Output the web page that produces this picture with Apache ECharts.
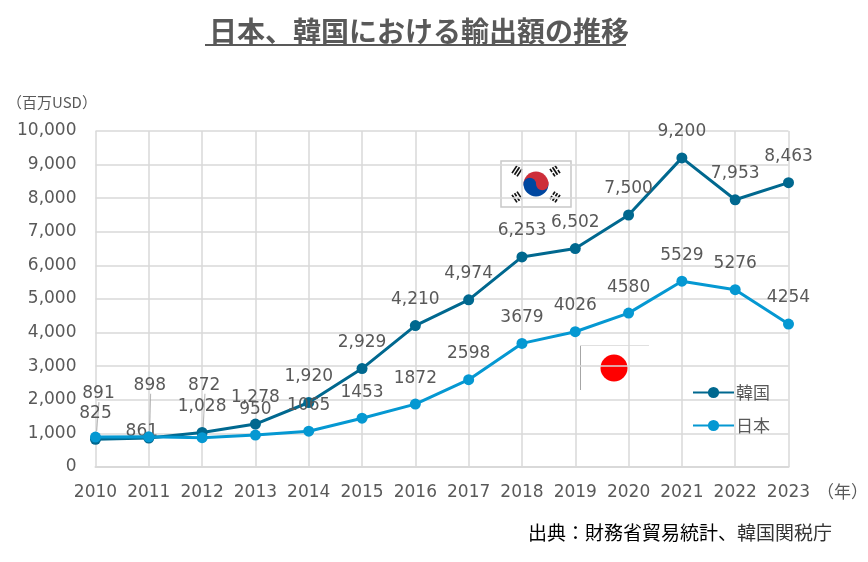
<!DOCTYPE html>
<html>
<head>
<meta charset="utf-8">
<script src="https://cdn.jsdelivr.net/npm/echarts@6/dist/echarts.min.js"></script>
<style>
html,body{margin:0;padding:0;background:#fff;}
#c{width:868px;height:562px;}
</style>
</head>
<body>
<div id="c"></div>
<script>
const years = ['2010','2011','2012','2013','2014','2015','2016','2017','2018','2019','2020','2021','2022','2023'];
const korea = [825, 861, 1028, 1278, 1920, 2929, 4210, 4974, 6253, 6502, 7500, 9200, 7953, 8463];
const japan = [891, 898, 872, 950, 1065, 1453, 1872, 2598, 3679, 4026, 4580, 5529, 5276, 4254];
const yTicks = [0, 1000, 2000, 3000, 4000, 5000, 6000, 7000, 8000, 9000, 10000];

const FONT = 'DejaVu Sans, Noto Sans CJK JP, sans-serif';
const JFONT = 'Noto Sans CJK JP, sans-serif';
const KCOL = '#00688f';
const JCOL = '#0598d2';
const TXT = '#595959';

function fmt(v){ return v.toString().replace(/\B(?=(\d{3})+(?!\d))/g, ','); }

// label nudges (px) for crowded early points
const kMoves = {1: [-7, 20]};
const jMoves = {0: [3, -17], 1: [1, -25], 2: [2, -26]};

// leader lines under the nudged Japan labels, drawn as thin rect symbols at the data points
const leaderData = Object.keys(jMoves).map(k => {
  const dx = jMoves[k][0], dy = jMoves[k][1];
  const len = 12 - dy;
  return {
    value: [Number(k), japan[k]],
    symbolSize: [1.1, len],
    symbolOffset: [dx * 0.5 + 0.8, -(6 + len / 2)],
    symbolRotate: -dx * 1.5
  };
});

// Korean flag trigrams
function trigram(cx, cy, rot, pattern){
  const children = [];
  const L = 9, T = 1.7, G = 1.3;
  pattern.forEach((broken, k) => {
    const y = -((3*T + 2*G)/2) + k*(T+G);
    if (broken){
      children.push({type:'rect', shape:{x:-L/2, y:y, width:L/2-0.8, height:T}, style:{fill:'#111'}});
      children.push({type:'rect', shape:{x:0.8, y:y, width:L/2-0.8, height:T}, style:{fill:'#111'}});
    } else {
      children.push({type:'rect', shape:{x:-L/2, y:y, width:L, height:T}, style:{fill:'#111'}});
    }
  });
  return {type:'group', x:cx, y:cy, rotation:rot, children:children};
}
const A = 0.99;
const kfx = 536, kfy = 184, kr = 12.5;

const chart = echarts.init(document.getElementById('c'));
chart.setOption({
  animation: false,
  backgroundColor: '#fff',
  title: {
    text: '日本、韓国における輸出額の推移',
    left: 204,
    top: 12,
    textStyle: {fontFamily: JFONT, fontSize: 28, fontWeight: 'bold', color: TXT}
  },
  legend: {
    orient: 'vertical',
    left: 687,
    top: 379,
    itemWidth: 41,
    itemHeight: 14,
    itemGap: 16,
    data: ['韓国', '日本'],
    textStyle: {fontFamily: JFONT, fontSize: 17, color: TXT, padding: [0,0,0,-3]}
  },
  grid: {left: 95.5, right: 79.5, top: 131, bottom: 95, containLabel: false},
  xAxis: {
    type: 'category',
    data: years,
    boundaryGap: false,
    axisLine: {show: true, lineStyle: {color: '#d9d9d9', width: 2}},
    axisTick: {show: false},
    axisLabel: {interval: 0, fontFamily: FONT, fontSize: 17, color: TXT, margin: 17},
    splitLine: {show: true, interval: 0, lineStyle: {color: '#d9d9d9', width: 1.5}}
  },
  yAxis: {
    type: 'value',
    min: yTicks[0],
    max: yTicks[yTicks.length-1],
    interval: yTicks[1] - yTicks[0],
    axisLine: {show: false},
    axisTick: {show: false},
    axisLabel: {fontFamily: FONT, fontSize: 17, color: TXT, margin: 19, formatter: v => fmt(v)},
    splitLine: {show: true, lineStyle: {color: '#d9d9d9', width: 1.5}}
  },
  series: [
    {
      name: 'leader',
      type: 'scatter',
      data: leaderData,
      symbol: 'rect',
      silent: true,
      itemStyle: {color: '#a8a8a8'},
      label: {show: false},
      z: 1
    },
    {
      name: '韓国',
      type: 'line',
      data: korea,
      color: KCOL,
      symbol: 'circle',
      symbolSize: 11,
      lineStyle: {width: 3, color: KCOL},
      itemStyle: {color: KCOL},
      label: {show: true, position: 'top', distance: 12, fontFamily: FONT, fontSize: 17, color: TXT,
        formatter: p => fmt(p.value)},
      labelLayout: p => { const m = kMoves[p.dataIndex]; return m ? {dx: m[0], dy: m[1]} : {}; },
      z: 2
    },
    {
      name: '日本',
      type: 'line',
      data: japan,
      color: JCOL,
      symbol: 'circle',
      symbolSize: 11,
      lineStyle: {width: 3, color: JCOL},
      itemStyle: {color: JCOL},
      label: {show: true, position: 'top', distance: 12, fontFamily: FONT, fontSize: 17, color: TXT,
        formatter: p => String(p.value)},
      labelLayout: p => { const m = jMoves[p.dataIndex]; return m ? {dx: m[0], dy: m[1]} : {}; },
      z: 3
    }
  ],
  graphic: [
    // title underline
    {type:'line', shape:{x1:205, y1:45, x2:626, y2:45}, style:{stroke:TXT, lineWidth:2}},
    // y unit
    {type:'text', left: 7, top: 95, style:{text:'（百万USD）', fontFamily: JFONT, fontSize: 15, fill: TXT}},
    // x unit
    {type:'text', left: 817, top: 483, style:{text:'（年）', fontFamily: JFONT, fontSize: 17, fill: TXT}},
    // source
    {type:'text', right: 36, top: 523, style:{
      text:'{a|出典：財務省貿易統計、}{b|韓国関税庁}',
      rich:{
        a:{fontFamily: JFONT, fontSize: 19, fill:'#000'},
        b:{fontFamily: JFONT, fontSize: 19, fill:'#333'}
      }
    }},
    // Korean flag
    {type:'group', z: 10, children: [
      {type:'rect', shape:{x:501, y:161, width:70, height:46}, style:{fill:'#fff', stroke:'#c8c8c8', lineWidth:1.5}},
      {type:'sector', shape:{cx:kfx, cy:kfy, r0:0, r:kr, startAngle:Math.PI, endAngle:2*Math.PI, clockwise:true}, style:{fill:'#cd2e3a'}},
      {type:'sector', shape:{cx:kfx, cy:kfy, r0:0, r:kr, startAngle:0, endAngle:Math.PI, clockwise:true}, style:{fill:'#0047a0'}},
      {type:'circle', shape:{cx:kfx - kr/2, cy:kfy, r:kr/2}, style:{fill:'#0047a0'}},
      {type:'circle', shape:{cx:kfx + kr/2, cy:kfy, r:kr/2}, style:{fill:'#cd2e3a'}},
      trigram(517, 171, A, [0,0,0]),
      trigram(555, 171, -A, [1,0,1]),
      trigram(517, 197, -A, [0,1,0]),
      trigram(555, 197, A, [1,1,1])
    ]},
    // Japanese flag
    {type:'group', z: 10, children: [
      {type:'rect', shape:{x:580, y:345, width:69, height:45}, style:{fill:'#fff'}},
      {type:'line', shape:{x1:580.5, y1:345, x2:580.5, y2:390}, style:{stroke:'#a6a6a6', lineWidth:1}},
      {type:'line', shape:{x1:580, y1:345.5, x2:649, y2:345.5}, style:{stroke:'#e0e0e0', lineWidth:1}},
      {type:'circle', shape:{cx:614, cy:368, r:13.5}, style:{fill:'#ff0000'}}
    ]}
  ]
});
</script>
</body>
</html>
